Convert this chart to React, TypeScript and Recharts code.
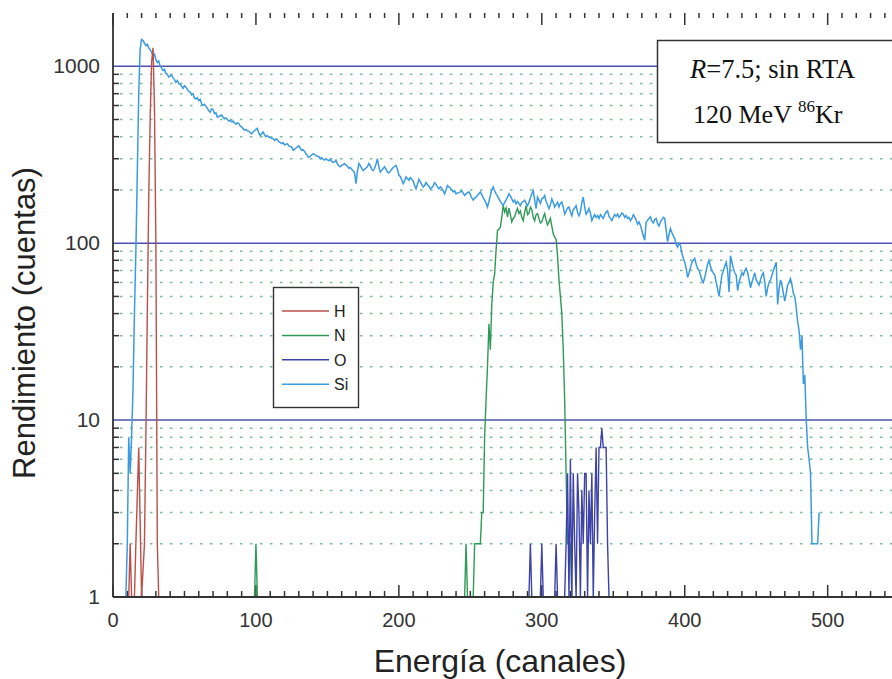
import React from 'react';
import { LineChart, Line, XAxis, YAxis, ReferenceLine } from 'recharts';

type Pt = [number, number | null];

// [channel, counts]; null = gap (no counts)
const H_COUNTS: Pt[] = [
  [11, 1], [12, 2], [13, 1], [14, null], [15, 1], [16, 2], [18, 7], [20, 1], [22, 2], [23, 8], [24, 40],
  [25, 180], [26, 500], [27, 1050], [28, 1270], [29, 600], [30, 100], [31, 2], [32, 1],
];

const N_COUNTS: Pt[] = [
  [99, 1], [100, 2], [101, 1], [102, null], [246, 1], [247, 2], [248, 1], [249, null],
  [252, 1], [253, 2], [254, 2], [255, 2], [256, 2], [257, 2], [258, 3], [259, 3], [260, 8], [261, 13],
  [262, 20], [263, 35], [264, 25], [265, 45], [266, 60], [267, 67], [268, 91], [269, 118], [270, 120],
  [271, 123], [272, 140], [273, 163], [274, 150], [275, 158], [276, 141], [277, 158], [278, 145],
  [279, 132], [280, 138], [281, 141], [282, 150], [283, 157], [284, 147], [285, 152], [286, 140],
  [287, 134], [288, 150], [289, 163], [290, 145], [291, 148], [292, 160], [293, 155], [294, 140],
  [295, 134], [296, 145], [297, 147], [298, 138], [299, 130], [300, 132], [301, 140], [302, 147],
  [303, 135], [304, 127], [305, 132], [306, 138], [307, 125], [308, 113], [309, 108], [310, 105],
  [311, 85], [312, 62], [313, 50], [314, 40], [315, 25], [316, 13], [317, 5], [318, 2], [319, 2],
  [320, 2], [321, 1],
];

const O_COUNTS: Pt[] = [
  [291, 1], [292, 2], [293, 1], [294, null], [299, 1], [300, 2], [301, 1], [302, null],
  [309, 1], [310, 2], [311, 1], [312, null], [316, 1], [317, 2], [318, 5], [319, 1], [320, 6],
  [321, 1], [322, 5], [323, 2], [324, 1], [325, 5], [326, 3], [327, 1], [328, 4], [329, 2], [330, 5],
  [331, 5], [332, 1], [333, 4], [334, 2], [335, 5], [336, 1], [337, 3], [338, 7], [339, 2], [340, 7],
  [341, 7], [342, 9], [343, 7], [344, 7], [345, 7], [346, 2], [347, 1],
];

const SI_COUNTS: Pt[] = [
  [9, 1], [10, 2], [11, 8], [12, 5], [13, 8], [14, 15], [15, 40], [16, 90], [17, 250], [18, 700],
  [19, 1250], [20, 1420], [21, 1400], [22, 1350], [23, 1310], [24, 1330], [25, 1270], [26, 1240],
  [27, 1200], [28, 1150], [29, 1170], [30, 1090], [31, 1050], [32, 1070], [33, 1000], [34, 980],
  [35, 945], [36, 960], [37, 910], [38, 900], [39, 870], [40, 880], [41, 890], [42, 860], [43, 840],
  [44, 810], [45, 830], [46, 800], [47, 790], [48, 770], [49, 750], [50, 775], [51, 760], [52, 740],
  [53, 720], [54, 715], [55, 690], [56, 700], [57, 660], [58, 655], [59, 665], [60, 640], [61, 650],
  [62, 615], [63, 600], [64, 610], [65, 595], [66, 580], [67, 560], [68, 550], [69, 575], [70, 570],
  [71, 540], [72, 545], [73, 515], [74, 520], [75, 525], [76, 530], [77, 515], [78, 505], [79, 510],
  [80, 500], [81, 490], [82, 495], [83, 485], [84, 490], [85, 478], [86, 470], [87, 480], [88, 475],
  [89, 460], [90, 455], [91, 445], [92, 435], [93, 440], [94, 432], [95, 430], [96, 420], [97, 415],
  [98, 425], [99, 432], [100, 440], [101, 445], [102, 420], [103, 405], [104, 415], [105, 425],
  [106, 410], [107, 400], [108, 405], [109, 398], [110, 395], [111, 392], [112, 390], [113, 380],
  [114, 388], [115, 385], [116, 375], [117, 370], [118, 365], [119, 370], [120, 360], [121, 362],
  [122, 365], [123, 355], [124, 352], [125, 350], [126, 335], [127, 340], [128, 345], [129, 350],
  [130, 355], [131, 345], [132, 335], [133, 338], [134, 330], [135, 320], [136, 312], [137, 305],
  [138, 310], [139, 315], [140, 320], [141, 318], [142, 312], [143, 310], [144, 308], [145, 300],
  [146, 305], [147, 298], [148, 295], [149, 300], [150, 296], [151, 292], [152, 298], [153, 290],
  [154, 286], [155, 288], [156, 295], [157, 280], [158, 274], [159, 270], [160, 275], [161, 278],
  [162, 282], [163, 276], [164, 272], [165, 265], [166, 268], [167, 262], [168, 257], [169, 250],
  [170, 217], [171, 255], [172, 282], [173, 275], [174, 265], [175, 257], [176, 262], [177, 266],
  [178, 270], [179, 282], [180, 275], [181, 262], [182, 257], [183, 265], [184, 280], [185, 300],
  [186, 270], [187, 252], [188, 258], [189, 264], [190, 270], [191, 262], [192, 252], [193, 250],
  [194, 255], [195, 262], [196, 268], [197, 272], [198, 275], [199, 262], [200, 242], [201, 238],
  [202, 228], [203, 217], [204, 225], [205, 237], [206, 232], [207, 227], [208, 235], [209, 230],
  [210, 225], [211, 212], [212, 203], [213, 215], [214, 230], [215, 222], [216, 215], [217, 208],
  [218, 212], [219, 220], [220, 214], [221, 210], [222, 203], [223, 206], [224, 210], [225, 220],
  [226, 215], [227, 208], [228, 203], [229, 208], [230, 204], [231, 198], [232, 190], [233, 200],
  [234, 212], [235, 208], [236, 205], [237, 200], [238, 195], [239, 198], [240, 190], [241, 192],
  [242, 193], [243, 195], [244, 197], [245, 192], [246, 186], [247, 190], [248, 193], [249, 195],
  [250, 188], [251, 180], [252, 175], [253, 180], [254, 182], [255, 186], [256, 190], [257, 195],
  [258, 188], [259, 180], [260, 175], [261, 168], [262, 160], [263, 172], [264, 186], [265, 200],
  [266, 208], [267, 198], [268, 190], [269, 185], [270, 178], [271, 172], [272, 168], [273, 163],
  [274, 170], [275, 175], [276, 182], [277, 190], [278, 185], [279, 178], [280, 171], [281, 175],
  [282, 167], [283, 172], [284, 168], [285, 163], [286, 170], [287, 172], [288, 175], [289, 168],
  [290, 163], [291, 170], [292, 180], [293, 190], [294, 198], [295, 175], [296, 157], [297, 182],
  [298, 175], [299, 168], [300, 178], [301, 180], [302, 186], [303, 172], [304, 165], [305, 157],
  [306, 165], [307, 178], [308, 170], [309, 160], [310, 165], [311, 170], [312, 160], [313, 168],
  [314, 171], [315, 160], [316, 146], [317, 152], [318, 158], [319, 160], [320, 150], [321, 143],
  [322, 155], [323, 158], [324, 163], [325, 150], [326, 143], [327, 150], [328, 170], [329, 182],
  [330, 160], [331, 146], [332, 150], [333, 157], [334, 148], [335, 134], [336, 140], [337, 145],
  [338, 140], [339, 143], [340, 138], [341, 145], [342, 141], [343, 138], [344, 145], [345, 150],
  [346, 152], [347, 142], [348, 138], [349, 134], [350, 140], [351, 145], [352, 142], [353, 146],
  [354, 140], [355, 143], [356, 148], [357, 146], [358, 140], [359, 143], [360, 138], [361, 140],
  [362, 134], [363, 138], [364, 145], [365, 141], [366, 135], [367, 128], [368, 132], [369, 126],
  [370, 118], [371, 110], [372, 104], [373, 131], [374, 135], [375, 138], [376, 141], [377, 133],
  [378, 130], [379, 136], [380, 138], [381, 129], [382, 125], [383, 132], [384, 136], [385, 140],
  [386, 138], [387, 118], [388, 102], [389, 112], [390, 121], [391, 115], [392, 110], [393, 106],
  [394, 98], [395, 95], [396, 100], [397, 97], [398, 88], [399, 82], [400, 78], [401, 72], [402, 64],
  [403, 68], [404, 73], [405, 78], [406, 80], [407, 82], [408, 76], [409, 72], [410, 70], [411, 66],
  [412, 62], [413, 60], [414, 64], [415, 70], [416, 76], [417, 80], [418, 74], [419, 70], [420, 68],
  [421, 66], [422, 60], [423, 55], [424, 50], [425, 58], [426, 66], [427, 70], [428, 74], [429, 78],
  [430, 70], [431, 53], [432, 85], [433, 78], [434, 72], [435, 68], [436, 66], [437, 54], [438, 60],
  [439, 64], [440, 68], [441, 66], [442, 70], [443, 72], [444, 68], [445, 62], [446, 56], [447, 60],
  [448, 64], [449, 68], [450, 62], [451, 60], [452, 58], [453, 62], [454, 66], [455, 68], [456, 60],
  [457, 50], [458, 56], [459, 60], [460, 62], [461, 66], [462, 70], [463, 74], [464, 78], [465, 45],
  [466, 55], [467, 62], [468, 58], [469, 52], [470, 47], [471, 52], [472, 58], [473, 60], [474, 63],
  [475, 58], [476, 52], [477, 50], [478, 43], [479, 36], [480, 32], [481, 25], [482, 30], [483, 16],
  [484, 18], [485, 10], [486, 7], [487, 6], [488, 5], [489, 2], [490, 2], [491, 2], [492, 2], [493, 2],
  [494, 3],
];

const X_MAJOR = [0, 100, 200, 300, 400, 500];
const X_MINOR = [
  10, 20, 30, 40, 50, 60, 70, 80, 90, 110, 120, 130, 140, 150, 160, 170, 180, 190,
  210, 220, 230, 240, 250, 260, 270, 280, 290, 310, 320, 330, 340, 350, 360, 370, 380, 390,
  410, 420, 430, 440, 450, 460, 470, 480, 490, 510, 520, 530, 540,
];
const Y_MAJOR = [1, 10, 100, 1000];
const Y_GRID_MAJOR = [10, 100, 1000];
const Y_MINOR = [2, 3, 4, 5, 6, 7, 8, 9, 20, 30, 40, 50, 60, 70, 80, 90, 200, 300, 400, 500, 600, 700, 800, 900];

const SERIES = [
  { name: 'H', color: '#bb4f49', points: H_COUNTS, width: 1.4 },
  { name: 'N', color: '#2f9a58', points: N_COUNTS, width: 1.4 },
  { name: 'O', color: '#3d42a8', points: O_COUNTS, width: 1.4 },
  { name: 'Si', color: '#3b9be2', points: SI_COUNTS, width: 1.5 },
];
const DRAW_ORDER = ['Si', 'H', 'N', 'O'];

const toRows = (pts: Pt[]) => pts.map(([ch, v]) => ({ ch, v }));

const AXIS = '#333333';
const GRID_DOT = '#78bb98';
const GRID_SOLID = '#4a50b2';
const SANS = '"Liberation Sans", Arial, sans-serif';
const SERIF = '"Liberation Serif", "Times New Roman", serif';
const X_DOMAIN: [number, number] = [0, 545];
const Y_DOMAIN: [number, number] = [1, 2000];

// vertical reference line rendered only as inward ticks on top and bottom frame
const xTickShape = (bottomLen: number, topLen: number) => (p: any) => {
  const x = Number(p.x1);
  const top = Math.min(Number(p.y1), Number(p.y2));
  const bot = Math.max(Number(p.y1), Number(p.y2));
  return (
    <g>
      <line x1={x} x2={x} y1={bot} y2={bot - bottomLen} stroke={AXIS} strokeWidth={1.5} />
      <line x1={x} x2={x} y1={top} y2={top + topLen} stroke={AXIS} strokeWidth={1.5} />
    </g>
  );
};

// horizontal minor grid: dotted line plus inward tick on the left frame
const yMinorShape = (p: any) => {
  const left = Math.min(Number(p.x1), Number(p.x2));
  const right = Math.max(Number(p.x1), Number(p.x2));
  const y = Number(p.y1);
  return (
    <g>
      <line x1={left + 7} x2={right} y1={y} y2={y} stroke={GRID_DOT} strokeWidth={1.5} strokeDasharray="2.5 7.5" />
      <line x1={left} x2={left + 6} y1={y} y2={y} stroke={AXIS} strokeWidth={1.5} />
    </g>
  );
};

const BottomLabel = (p: any) => (
  <text x={p.x} y={Number(p.y) + 30} textAnchor="middle" fontSize={20} fill="#333" fontFamily={SANS}>
    {p.payload?.value}
  </text>
);

const LeftLabel = (p: any) => (
  <text x={Number(p.x) - 13} y={Number(p.y) + 7} textAnchor="end" fontSize={21} fill="#333" fontFamily={SANS}>
    {p.payload?.value}
  </text>
);

export default function App() {
  const W = 892;
  const Hh = 679;
  return (
    <div style={{ position: 'absolute', left: 0, top: 0, width: W, height: Hh, overflow: 'hidden', background: '#fff' }}>
      <LineChart width={W} height={Hh} margin={{ top: 13, right: 0, bottom: 0, left: 0 }}>
        <XAxis
          dataKey="ch"
          type="number"
          domain={X_DOMAIN}
          allowDataOverflow
          ticks={X_MAJOR}
          interval={0}
          height={82}
          tickSize={0}
          tickMargin={0}
          tickLine={false}
          axisLine={{ stroke: AXIS, strokeWidth: 1.8 }}
          tick={(p: any) => <BottomLabel {...p} />}
        />
        <XAxis
          xAxisId="top"
          orientation="top"
          type="number"
          domain={X_DOMAIN}
          allowDataOverflow
          ticks={X_MAJOR}
          interval={0}
          height={0}
          tickSize={0}
          tickMargin={0}
          tickLine={false}
          tick={false}
          axisLine={{ stroke: AXIS, strokeWidth: 1.8 }}
        />
        <YAxis
          type="number"
          scale="log"
          domain={Y_DOMAIN}
          allowDataOverflow
          ticks={Y_MAJOR}
          interval={0}
          width={113}
          tickSize={0}
          tickMargin={0}
          tickLine={false}
          axisLine={{ stroke: AXIS, strokeWidth: 1.8 }}
          tick={(p: any) => <LeftLabel {...p} />}
        />
        {Y_MINOR.map((v) => (
          <ReferenceLine key={'m' + v} y={v} shape={yMinorShape} />
        ))}
        {Y_GRID_MAJOR.map((v) => (
          <ReferenceLine key={'M' + v} y={v} stroke={GRID_SOLID} strokeWidth={1.5} />
        ))}
        {X_MINOR.map((v) => (
          <ReferenceLine key={'xm' + v} x={v} shape={xTickShape(6, 5)} />
        ))}
        {X_MAJOR.map((v) => (
          <ReferenceLine key={'xM' + v} x={v} shape={xTickShape(12, 12)} />
        ))}
        {DRAW_ORDER.map((n) => {
          const s = SERIES.find((q) => q.name === n)!;
          return (
            <Line
              key={s.name}
              name={s.name}
              data={toRows(s.points)}
              dataKey="v"
              type="linear"
              stroke={s.color}
              strokeWidth={s.width}
              dot={false}
              activeDot={false}
              connectNulls={false}
              isAnimationActive={false}
            />
          );
        })}
      </LineChart>
      <svg width={W} height={Hh} style={{ position: 'absolute', left: 0, top: 0, pointerEvents: 'none' }}>
        <text transform="translate(35,323) rotate(-90)" textAnchor="middle" fontSize={31} fill="#222" fontFamily={SANS}>
          Rendimiento (cuentas)
        </text>
        <text x={500} y={672} textAnchor="middle" fontSize={32} fill="#222" fontFamily={SANS}>
          Energía (canales)
        </text>
        <rect x={273.5} y={287.5} width={85} height={120} fill="#fff" stroke={AXIS} strokeWidth={1.4} />
        {SERIES.map((s, i) => {
          const ly = 311 + i * 24.4;
          return (
            <g key={s.name}>
              <line x1={282} x2={329} y1={ly} y2={ly} stroke={s.color} strokeWidth={1.5} />
              <text x={334} y={ly + 6} fontSize={16} fill="#222" fontFamily={SANS}>
                {s.name}
              </text>
            </g>
          );
        })}
        <rect x={657.5} y={40.5} width={240} height={102} fill="#fff" stroke={AXIS} strokeWidth={1.5} />
        <text x={690} y={78} fontSize={26.5} fill="#111" fontFamily={SERIF}>
          <tspan fontStyle="italic">R</tspan>=7.5; sin RTA
        </text>
        <text x={693} y={123} fontSize={26} fill="#111" fontFamily={SERIF}>
          120 MeV <tspan dy={-11} fontSize={17}>86</tspan>
          <tspan dy={11}>Kr</tspan>
        </text>
      </svg>
    </div>
  );
}
